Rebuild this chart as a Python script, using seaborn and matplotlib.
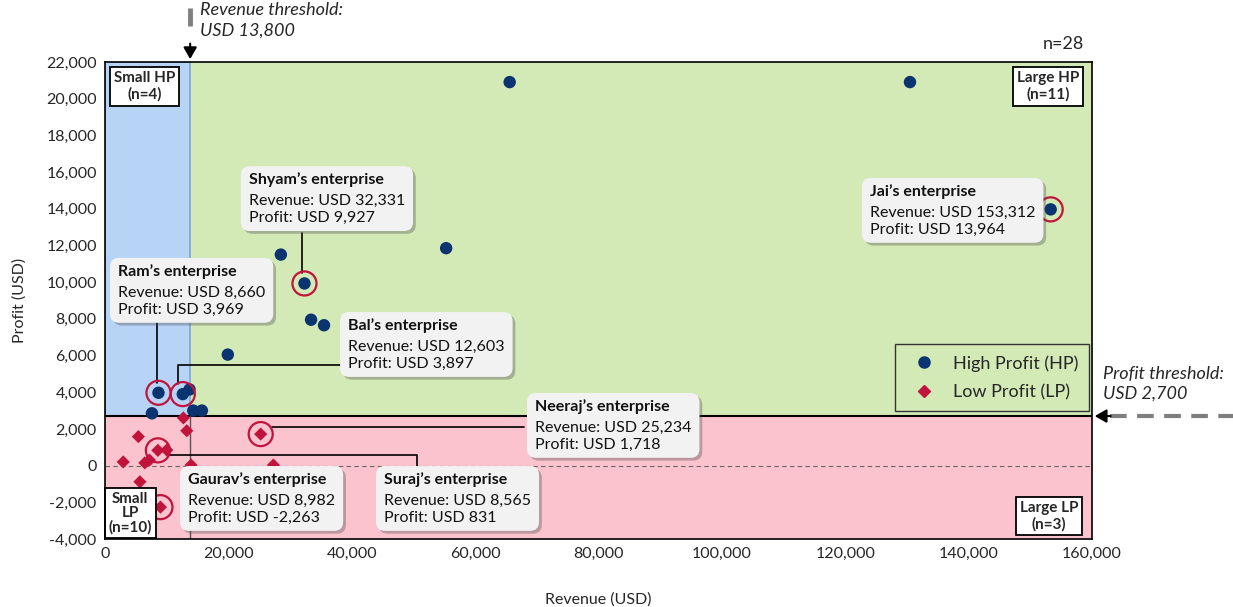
import pandas as pd
import matplotlib.pyplot as plt
import seaborn as sns
from matplotlib.patches import Rectangle, FancyBboxPatch
from matplotlib.transforms import IdentityTransform, Bbox
from matplotlib.patheffects import withSimplePatchShadow
from matplotlib.lines import Line2D

sns.set_style("white")
plt.rcParams['font.family'] = ['Lato', 'DejaVu Sans']

# data
hp_rev = [65600, 130500, 153312, 32331, 28500, 55300, 33400, 35500, 19900, 8660, 12603, 13700, 14300, 15700, 7600]
hp_prof = [20900, 20900, 13964, 9927, 11500, 11850, 7950, 7650, 6050, 3969, 3897, 4150, 3000, 3000, 2850]
lp_rev = [12700, 13250, 5400, 8565, 10000, 2950, 6450, 7200, 13950, 5650, 8982, 25234, 27300]
lp_prof = [2600, 1900, 1580, 831, 850, 200, 150, 300, 30, -880, -2263, 1718, 30]

names = ["Shyam", "Ram", "Bal", "Neeraj", "Gaurav", "Suraj", "Jai"]
ent_rev = [32331, 8660, 12603, 25234, 8982, 8565, 153312]
ent_prof = [9927, 3969, 3897, 1718, -2263, 831, 13964]

rev_threshold = 13800
profit_threshold = 2700

hp = pd.DataFrame({"Revenue": hp_rev, "Profit": hp_prof})
lp = pd.DataFrame({"Revenue": lp_rev, "Profit": lp_prof})

blue_pt = "#0a3470"
red_pt = "#c0143c"

fig, ax = plt.subplots(figsize=(12.33, 6.07), dpi=100)
fig.subplots_adjust(left=0.0852, right=0.8856, top=0.898, bottom=0.112)

xmin, xmax, ymin, ymax = 0, 160000, -4000, 22000
ax.set_xlim(xmin, xmax)
ax.set_ylim(ymin, ymax)

# quadrant backgrounds
ax.add_patch(Rectangle((xmin, ymin), xmax - xmin, profit_threshold - ymin, facecolor="#fac3cd", edgecolor="none", zorder=0))
ax.add_patch(Rectangle((rev_threshold, profit_threshold), xmax - rev_threshold, ymax - profit_threshold, facecolor="#d3eab7", edgecolor="none", zorder=0))
ax.add_patch(Rectangle((xmin, profit_threshold), rev_threshold - xmin, ymax - profit_threshold, facecolor="#b7d4f7", edgecolor="#7aa6dc", lw=1.2, zorder=0))

ax.axhline(profit_threshold, color="black", lw=1.5, zorder=1)
ax.plot([rev_threshold, rev_threshold], [ymin, profit_threshold], color="#555555", lw=1, zorder=1)
ax.axhline(0, color="#666666", lw=0.8, ls=(0, (4, 3)), zorder=1)

sns.scatterplot(data=hp, x="Revenue", y="Profit", color=blue_pt, marker="o", s=80,
                edgecolor="none", ax=ax, zorder=3)
sns.scatterplot(data=lp, x="Revenue", y="Profit", color=red_pt, marker="D", s=45,
                edgecolor="none", ax=ax, zorder=3)

# highlighted enterprises
ax.scatter(ent_rev, ent_prof, s=300, facecolors="none", edgecolors=red_pt, linewidths=1.6, zorder=4)

# connector lines
conn = [
    ([31990, 31990], [12700, 10500]),
    ([8370, 8370], [8280, 4500]),
    ([11900, 11900, 39300], [4450, 5500, 5500]),
    ([27000, 68000], [2100, 2100]),
    ([10300, 50600, 50600], [580, 580, -80]),
]
for xs, ys in conn:
    ax.plot(xs, ys, color="black", lw=1.2, zorder=2)

# annotation boxes
box_pos = [(23300, 15990), (2100, 10990), (39400, 8040), (69700, 3630), (13450, -350), (45230, -350), (124000, 15350)]
pairs = []
for n, r, p, (tx, ty) in zip(names, ent_rev, ent_prof, box_pos):
    t1 = ax.text(tx, ty, f"{n}\u2019s enterprise", fontsize=11.5, fontweight="bold", va="top", ha="left",
                 color="#111111", zorder=7)
    t2 = ax.annotate(f"Revenue: USD {r:,}\nProfit: USD {p:,}", xy=(tx, ty), xytext=(0, -15.5),
                     textcoords="offset points", fontsize=11.5, linespacing=1.3, va="top", ha="left",
                     color="#111111", zorder=7)
    pairs.append((t1, t2))

fig.canvas.draw()
renderer = fig.canvas.get_renderer()
for t1, t2 in pairs:
    bb = Bbox.union([t1.get_window_extent(renderer), t2.get_window_extent(renderer)])
    pad = 8
    box = FancyBboxPatch((bb.x0 - pad, bb.y0 - pad + 2), bb.width + 2 * pad, bb.height + 2 * pad - 4,
                         boxstyle="round,pad=0,rounding_size=9", facecolor="#f2f2f2", edgecolor="none",
                         transform=IdentityTransform(), zorder=6)
    box.set_path_effects([withSimplePatchShadow(offset=(2, -2), alpha=0.35)])
    ax.add_patch(box)

# quadrant labels
qbox = dict(boxstyle="square,pad=0.25", facecolor="white", edgecolor="black", lw=1.3)
ax.text(6400, 20650, "Small HP\n(n=4)", ha="center", va="center", fontsize=11, fontweight="bold", bbox=qbox, zorder=8)
ax.text(152900, 20650, "Large HP\n(n=11)", ha="center", va="center", fontsize=11, fontweight="bold", bbox=qbox, zorder=8)
ax.text(4100, -2600, "Small\nLP\n(n=10)", ha="center", va="center", fontsize=11, fontweight="bold", bbox=qbox,
        linespacing=1.0, zorder=8)
ax.text(153000, -2750, "Large LP\n(n=3)", ha="center", va="center", fontsize=11, fontweight="bold", bbox=qbox, zorder=8)

ax.text(0.992, 1.02, "n=28", transform=ax.transAxes, ha="right", va="bottom", fontsize=13)

# revenue threshold marker
ax.plot([rev_threshold, rev_threshold], [23950, 24950], color="#7f7f7f", lw=3.5, clip_on=False, solid_capstyle="butt")
ax.annotate("", xy=(rev_threshold, ymax), xytext=(rev_threshold, 23150),
            arrowprops=dict(arrowstyle="-|>,head_length=0.7,head_width=0.4", color="black", lw=1.5),
            annotation_clip=False)
ax.text(15400, 25250, "Revenue threshold:\nUSD 13,800", fontsize=13, style="italic", va="top", ha="left",
        linespacing=1.3, clip_on=False)

# profit threshold marker
ax.plot([163000, 183000], [profit_threshold, profit_threshold], color="#7f7f7f", lw=3, ls=(0, (4, 2.5)),
        clip_on=False)
ax.annotate("", xy=(xmax, profit_threshold), xytext=(163500, profit_threshold),
            arrowprops=dict(arrowstyle="-|>,head_length=0.7,head_width=0.4", color="black", lw=1.5),
            annotation_clip=False)
ax.text(161800, 5450, "Profit threshold:\nUSD 2,700", fontsize=13, style="italic", va="top", ha="left",
        linespacing=1.3, clip_on=False)

# legend
handles = [Line2D([], [], marker="o", color=blue_pt, ls="none", markersize=8),
           Line2D([], [], marker="D", color=red_pt, ls="none", markersize=6)]
leg = ax.legend(handles, ["High Profit (HP)", "Low Profit (LP)"], loc="lower right",
                bbox_to_anchor=(0.9975, 0.268), borderaxespad=0, fontsize=13, frameon=True, fancybox=False,
                facecolor="#d3eab7", edgecolor="#333333", framealpha=1, handletextpad=0.6,
                borderpad=0.6, labelspacing=0.7)
leg.get_frame().set_linewidth(1)
leg.set_zorder(9)

ax.set_xticks(range(0, 160001, 20000))
ax.set_yticks(range(-4000, 22001, 2000))
ax.xaxis.set_major_formatter(plt.FuncFormatter(lambda v, _: f"{int(v):,}"))
ax.yaxis.set_major_formatter(plt.FuncFormatter(lambda v, _: f"{int(v):,}"))
ax.tick_params(length=0, labelsize=11.5, pad=6)
ax.set_xlabel("Revenue (USD)", fontsize=11.5, labelpad=22)
ax.set_ylabel("Profit (USD)", fontsize=11.5, labelpad=14)
for s in ax.spines.values():
    s.set_color("black")
    s.set_linewidth(1.2)
    s.set_zorder(10)

plt.savefig("out.png", dpi=100)
